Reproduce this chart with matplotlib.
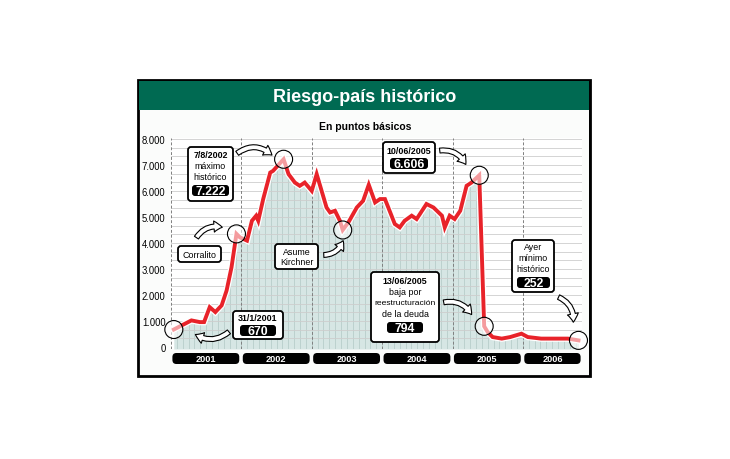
import matplotlib
matplotlib.use("Agg")
import matplotlib.pyplot as plt
import matplotlib.patheffects as pe
from matplotlib import font_manager
from matplotlib.patches import Rectangle, FancyBboxPatch, Circle, FancyArrowPatch
from matplotlib.transforms import Affine2D

# ---- datos (riesgo-país, puntos básicos) ----
fechas = [2001.04, 2001.29, 2001.41, 2001.47, 2001.55, 2001.63, 2001.72, 2001.79,
          2001.86, 2001.93, 2001.98, 2002.08, 2002.15, 2002.21, 2002.24, 2002.31,
          2002.41, 2002.45, 2002.60, 2002.67, 2002.76, 2002.83, 2002.90, 2003.00,
          2003.07, 2003.21, 2003.26, 2003.33, 2003.40, 2003.44, 2003.52, 2003.64,
          2003.73, 2003.81, 2003.90, 2003.97, 2004.04, 2004.18, 2004.25, 2004.32,
          2004.42, 2004.49, 2004.63, 2004.73, 2004.85, 2004.89, 2004.96, 2005.03,
          2005.11, 2005.20, 2005.27, 2005.38, 2005.45, 2005.50, 2005.57, 2005.70,
          2005.82, 2005.98, 2006.07, 2006.26, 2006.64, 2006.79]
riesgo = [670, 1020, 955, 955, 1530, 1340, 1600, 2170,
          3065, 4350, 4215, 4090, 4855, 5050, 4855, 5690,
          6710, 6775, 7222, 6650, 6325, 6200, 6325, 6005,
          6650, 5365, 5175, 5240, 4855, 4500, 4790, 5365,
          5625, 6240, 5560, 5690, 5690, 4730, 4600, 4855,
          5050, 4920, 5500, 5365, 5050, 4600, 5050, 4920,
          5240, 6200, 6325, 6606, 794, 570, 380, 320,
          380, 510, 380, 320, 320, 252]
anios = [2001, 2002, 2003, 2004, 2005, 2006]
yticks = [0, 1000, 2000, 3000, 4000, 5000, 6000, 7000, 8000]
# indices of annotated points
i_inicio, i_corralito, i_maximo, i_kirchner, i_1006, i_1306, i_ayer = 0, 9, 18, 29, 51, 52, 61

names = {f.name for f in font_manager.fontManager.ttflist}
HAS_NARROW = 'Liberation Sans Narrow' in names
NARROW = ['Liberation Sans Narrow', 'Liberation Sans', 'DejaVu Sans'] if HAS_NARROW else ['Liberation Sans', 'DejaVu Sans']
SANS = ['Liberation Sans', 'DejaVu Sans']
k = 1.0 if HAS_NARROW else 0.86

W, H = 730, 460
fig = plt.figure(figsize=(W / 100, H / 100), dpi=100)
fig.patch.set_facecolor('white')
pix = Affine2D().scale(1 / W, -1 / H).translate(0, 1) + fig.transFigure

# frame and header
fig.patches.append(Rectangle((138, 81), 452, 296, transform=pix, fc='#fbfcfb',
                             ec='black', lw=2.0, zorder=-2))
fig.patches.append(Rectangle((589, 83), 2, 295, transform=pix, fc='black', ec='none', zorder=-1))
fig.patches.append(Rectangle((139, 82), 450, 29, transform=pix, fc='#006a52', ec='none', zorder=-1))
fig.text(365, 97, 'Riesgo-país histórico', transform=pix, ha='center', va='center',
         color='white', fontsize=13, fontweight='bold', family=SANS)
fig.text(365, 127, 'En puntos básicos', transform=pix, ha='center', va='center',
         color='black', fontsize=7.5, fontweight='bold', family=SANS)

# axes: x px 171..582, y px 139..350
ax = fig.add_axes([171 / W, (H - 350) / H, (582 - 171) / W, 211 / H])
ax.set_zorder(1)
ax.set_xlim(2001, 2006.84)
ax.set_ylim(-80, 8040)
ax.patch.set_facecolor('white')
for s in ax.spines.values():
    s.set_visible(False)
ax.set_xticks([])
ax.set_yticks(yticks)
ax.set_yticklabels([f"{v:,}".replace(',', '.') for v in yticks], family=NARROW, fontsize=8.0 * k)
ax.tick_params(axis='y', length=0, pad=4)

# horizontal grid
g = 1000 / 3
v = g
while v < 8040:
    ax.axhline(v, color='#cdcdcd', lw=0.6, zorder=2)
    v += g

poly = ax.fill_between(fechas, riesgo, -80, color='#d6e6e4', lw=0, zorder=1)
path = poly.get_paths()[0]
meses = [2001 + m / 12 for m in range(0, 72)]
vl = ax.vlines(meses, -80, 8040, color='#b8cdca', lw=0.6, zorder=1.5)
vl.set_clip_path(path, ax.transData)

for a in anios:
    ax.axvline(a, color='#808080', lw=0.7, ls=(0, (3, 2)), zorder=2.5)

ax.plot(fechas, riesgo, color='#e8232a', lw=2.8, zorder=4, solid_joinstyle='miter',
        path_effects=[pe.Stroke(linewidth=4.6, foreground='white'), pe.Normal()])


def to_pix(x, y):
    dx, dy = ax.transData.transform((x, y))
    return dx, H - dy


# year bars
for a in anios:
    x0, _ = to_pix(a + 0.02, 0)
    x1, _ = to_pix(min(a + 0.97, 2006.82), 0)
    fig.patches.append(FancyBboxPatch((x0, 354), x1 - x0, 11, transform=pix,
                                      boxstyle='round,pad=0,rounding_size=4',
                                      fc='black', ec='none', zorder=3))
    fig.text((x0 + x1) / 2, 359.5, str(a), transform=pix, ha='center', va='center',
             color='white', fontsize=7.6 * k, fontweight='bold', family=NARROW, zorder=4)

# circles on annotated points
for i in [i_inicio, i_corralito, i_maximo, i_kirchner, i_1006, i_1306, i_ayer]:
    cx, cy = to_pix(fechas[i], riesgo[i])
    fig.patches.append(Circle((cx, cy), 9, transform=pix, fc=(1, 1, 1, 0.55),
                              ec='black', lw=0.8, zorder=5))


def caja(x0, y0, x1, y1, lineas, valor=None, vbox=None):
    fig.patches.append(FancyBboxPatch((x0, y0), x1 - x0, y1 - y0, transform=pix,
                                      boxstyle='round,pad=0,rounding_size=3',
                                      fc='white', ec='black', lw=1.3, zorder=6))
    cxm = (x0 + x1) / 2
    for txt, yy, bold in lineas:
        fs = 7.4 * k
        if len(txt) > 12:
            fs *= 0.96
        fig.text(cxm, yy, txt, transform=pix, ha='center', va='center', family=NARROW,
                 fontsize=fs, fontweight='bold' if bold else 'normal', zorder=7)
    if valor is not None:
        bx0, by0, bx1, by1 = vbox
        fig.patches.append(FancyBboxPatch((bx0, by0), bx1 - bx0, by1 - by0, transform=pix,
                                          boxstyle='round,pad=0,rounding_size=3',
                                          fc='black', ec='none', zorder=7))
        fig.text((bx0 + bx1) / 2, (by0 + by1) / 2 + 0.5, valor, transform=pix, ha='center',
                 va='center', color='white', fontsize=8.8, fontweight='bold',
                 family=SANS, zorder=8)


caja(188, 148, 233, 202, [('7/8/2002', 155.5, True), ('máximo', 166.5, False),
                          ('histórico', 177.5, False)], '7.222', (192, 186, 229, 197))
caja(178, 247, 221, 263, [('Corralito', 255, False)])
caja(275, 245, 318, 270, [('Asume', 252.5, False), ('Kirchner', 263, False)])
caja(233, 312, 283, 340, [('31/1/2001', 319, True)], '670', (240, 326, 276, 337))
caja(383, 143, 435, 174, [('10/06/2005', 152, True)], '6.606', (390, 159, 428, 170))
caja(371, 273, 439, 343, [('13/06/2005', 282, True), ('baja por', 293, False),
                          ('reestructuración', 304, False), ('de la deuda', 315, False)],
     '794', (387, 323, 423, 334))
caja(512, 241, 554, 293, [('Ayer', 248, False), ('mínimo', 259, False),
                          ('histórico', 270, False)], '252', (517, 278, 550, 289))

flechas = [((235, 156), (274, 158), -0.45),
           ((195, 241), (225, 229), -0.4),
           ((231, 331), (193, 334), -0.4),
           ((321, 256), (344, 239), 0.4),
           ((437, 152), (467, 168), -0.4),
           ((441, 304), (473, 318), -0.4),
           ((556, 297), (573, 326), -0.4)]
for a0, a1, rad in flechas:
    fig.patches.append(FancyArrowPatch(a0, a1, transform=pix,
                                       arrowstyle='simple,head_length=6,head_width=8,tail_width=3.5',
                                       connectionstyle=f'arc3,rad={rad}', mutation_scale=1,
                                       fc='white', ec='black', lw=0.8, zorder=6))

fig.savefig('out.png', dpi=100)
